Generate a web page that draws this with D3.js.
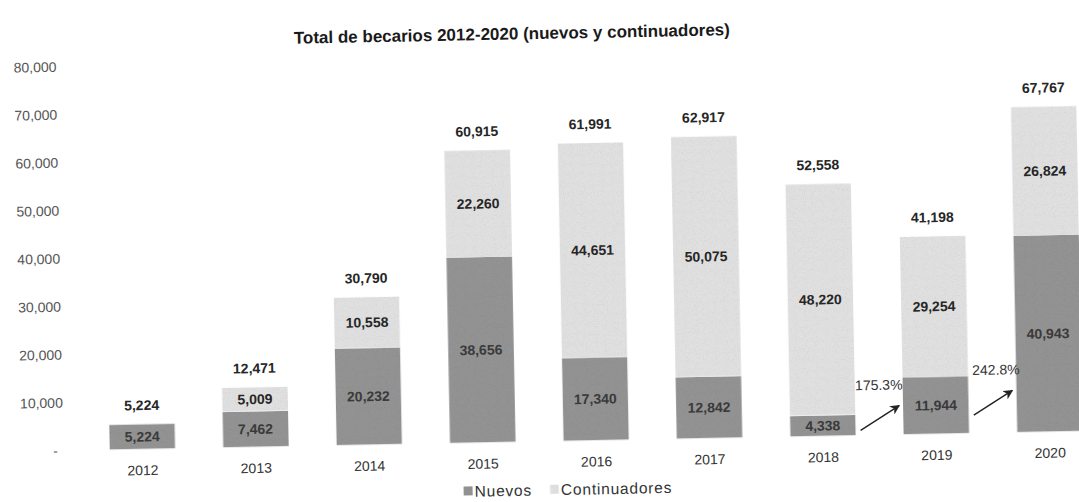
<!DOCTYPE html>
<html>
<head>
<meta charset="utf-8">
<script src="https://cdn.jsdelivr.net/npm/d3@7"></script>
<style>
  html, body { margin: 0; padding: 0; background: #fff; }
  text { font-family: "Liberation Sans", Arial, sans-serif; }
</style>
</head>
<body>
<div id="chart"></div>
<script>
// Values
const years = ['2012', '2013', '2014', '2015', '2016', '2017', '2018', '2019', '2020'];
const nuevos = [5224, 7462, 20232, 38656, 17340, 12842, 4338, 11944, 40943];
const continuadores = [0, 5009, 10558, 22260, 44651, 50075, 48220, 29254, 26824];
const totals = [5224, 12471, 30790, 60915, 61991, 62917, 52558, 41198, 67767];
const yTicks = [0, 10000, 20000, 30000, 40000, 50000, 60000, 70000, 80000];
const growth = [
  { from: '2018', to: '2019', label: '175.3%' },
  { from: '2019', to: '2020', label: '242.8%' }
];

const W = 1079, H = 502;
const dark = '#939393', light = '#e0e0e0', ink = '#262626';
const fmt = d3.format(',');

const svg = d3.select('#chart').append('svg')
  .attr('width', W)
  .attr('height', H)
  .attr('viewBox', `0 0 ${W} ${H}`);

svg.append('rect').attr('width', W).attr('height', H).attr('fill', '#fff');

const defs = svg.append('defs');

// grainy fill, like the scanned print
const grain = defs.append('filter')
  .attr('id', 'grain')
  .attr('x', 0).attr('y', 0).attr('width', 1).attr('height', 1);
grain.append('feTurbulence')
  .attr('type', 'fractalNoise')
  .attr('baseFrequency', 0.9)
  .attr('numOctaves', 1)
  .attr('seed', 4)
  .attr('result', 'noise');
grain.append('feColorMatrix')
  .attr('in', 'noise')
  .attr('type', 'saturate')
  .attr('values', 0)
  .attr('result', 'grey');
const ct = grain.append('feComponentTransfer').attr('in', 'grey').attr('result', 'mult');
['feFuncR', 'feFuncG', 'feFuncB'].forEach(f =>
  ct.append(f).attr('type', 'linear').attr('slope', 0.6).attr('intercept', 0.7));
ct.append('feFuncA').attr('type', 'linear').attr('slope', 0).attr('intercept', 1);
grain.append('feBlend')
  .attr('in', 'SourceGraphic')
  .attr('in2', 'mult')
  .attr('mode', 'multiply')
  .attr('result', 'blend');
grain.append('feComposite')
  .attr('in', 'blend')
  .attr('in2', 'SourceGraphic')
  .attr('operator', 'in');

// the scan is tilted a little, so the whole drawing is turned
const g = svg.append('g').attr('transform', 'rotate(-1.1, 540, 250)');

const x = d3.scaleBand()
  .domain(years)
  .range([82, 1103])
  .paddingInner(0.42)
  .paddingOuter(0.21);

const y = d3.scaleLinear()
  .domain([0, 80000])
  .range([441.5, 57.5]);

// Title
g.append('text')
  .attr('x', 516)
  .attr('y', 39)
  .attr('text-anchor', 'middle')
  .attr('font-size', '17px')
  .attr('font-weight', 'bold')
  .attr('fill', '#1a1a1a')
  .text('Total de becarios 2012-2020 (nuevos y continuadores)');

// Y axis labels only
const yAxis = g.append('g')
  .attr('transform', 'translate(60,0)')
  .call(d3.axisLeft(y)
    .tickValues(yTicks)
    .tickSize(0)
    .tickPadding(0)
    .tickFormat(d => d === 0 ? '-' : fmt(d)));
yAxis.select('.domain').remove();
yAxis.selectAll('text')
  .attr('font-family', '"Liberation Sans", Arial, sans-serif')
  .attr('font-size', '14px')
  .attr('fill', '#555')
  .attr('dx', d => d === 0 ? -6 : 0);

// Stacked bars
const rows = years.map((yr, i) => ({ yr, n: nuevos[i], c: continuadores[i], t: totals[i] }));

const bars = g.append('g').selectAll('g.bar')
  .data(rows)
  .join('g')
  .attr('class', 'bar');

bars.append('rect')
  .attr('x', d => x(d.yr))
  .attr('width', x.bandwidth())
  .attr('y', d => y(d.n))
  .attr('height', d => y(0) - y(d.n))
  .attr('fill', dark)
  .attr('filter', 'url(#grain)');

bars.filter(d => d.c > 0).append('rect')
  .attr('x', d => x(d.yr))
  .attr('width', x.bandwidth())
  .attr('y', d => y(d.n + d.c))
  .attr('height', d => y(d.n) - y(d.n + d.c))
  .attr('fill', light)
  .attr('filter', 'url(#grain)');

// segment labels
bars.append('text')
  .attr('x', d => x(d.yr) + x.bandwidth() / 2)
  .attr('y', d => (y(0) + y(d.n)) / 2)
  .attr('dy', '0.35em')
  .attr('text-anchor', 'middle')
  .attr('font-size', '14px')
  .attr('font-weight', 'bold')
  .attr('fill', '#3a3a3a')
  .text(d => fmt(d.n));

bars.filter(d => d.c > 0).append('text')
  .attr('x', d => x(d.yr) + x.bandwidth() / 2)
  .attr('y', d => (y(d.n) + y(d.n + d.c)) / 2)
  .attr('dy', '0.35em')
  .attr('text-anchor', 'middle')
  .attr('font-size', '14px')
  .attr('font-weight', 'bold')
  .attr('fill', ink)
  .text(d => fmt(d.c));

// totals above the bars
bars.append('text')
  .attr('x', d => x(d.yr) + x.bandwidth() / 2)
  .attr('y', d => y(Math.max(d.t, d.n + d.c)) - 14)
  .attr('text-anchor', 'middle')
  .attr('font-size', '14px')
  .attr('font-weight', 'bold')
  .attr('fill', ink)
  .text(d => fmt(d.t));

// year labels
bars.append('text')
  .attr('x', d => x(d.yr) + x.bandwidth() / 2)
  .attr('y', y(0) + 26)
  .attr('text-anchor', 'middle')
  .attr('font-size', '14px')
  .attr('fill', '#333')
  .text(d => d.yr);

// Growth annotations with arrows
defs.append('marker')
  .attr('id', 'arrow')
  .attr('viewBox', '0 0 10 10')
  .attr('refX', 9)
  .attr('refY', 5)
  .attr('markerWidth', 7)
  .attr('markerHeight', 7)
  .attr('orient', 'auto')
  .append('path')
  .attr('d', 'M0,0 L10,5 L0,10 L3,5 z')
  .attr('fill', '#222');

const lift = [0, 13]; // second annotation sits higher
growth.forEach((a, i) => {
  const mid = (x(a.from) + x.bandwidth() + x(a.to)) / 2;
  const base = y(0) - lift[i];
  g.append('line')
    .attr('x1', mid - 19)
    .attr('y1', base - 5)
    .attr('x2', mid + 20)
    .attr('y2', base - 29)
    .attr('stroke', '#222')
    .attr('stroke-width', 1.4)
    .attr('marker-end', 'url(#arrow)');
  g.append('text')
    .attr('x', mid + (i === 0 ? 0 : 4))
    .attr('y', base - 50)
    .attr('dy', '0.35em')
    .attr('text-anchor', 'middle')
    .attr('font-size', '14px')
    .attr('fill', '#333')
    .text(a.label);
});

// Legend
const legend = g.append('g').attr('transform', 'translate(459,490)');
const items = [{ name: 'Nuevos', fill: dark }, { name: 'Continuadores', fill: light }];
let lx = 0;
items.forEach(it => {
  legend.append('rect')
    .attr('x', lx)
    .attr('y', -5)
    .attr('width', 9)
    .attr('height', 9)
    .attr('fill', it.fill)
    .attr('filter', 'url(#grain)');
  const t = legend.append('text')
    .attr('x', lx + 11)
    .attr('y', 0)
    .attr('dy', '0.35em')
    .attr('font-size', '15.5px')
    .attr('letter-spacing', '0.8px')
    .attr('fill', '#333')
    .text(it.name);
  lx += 11 + t.node().getComputedTextLength() + 18;
});
</script>
</body>
</html>
